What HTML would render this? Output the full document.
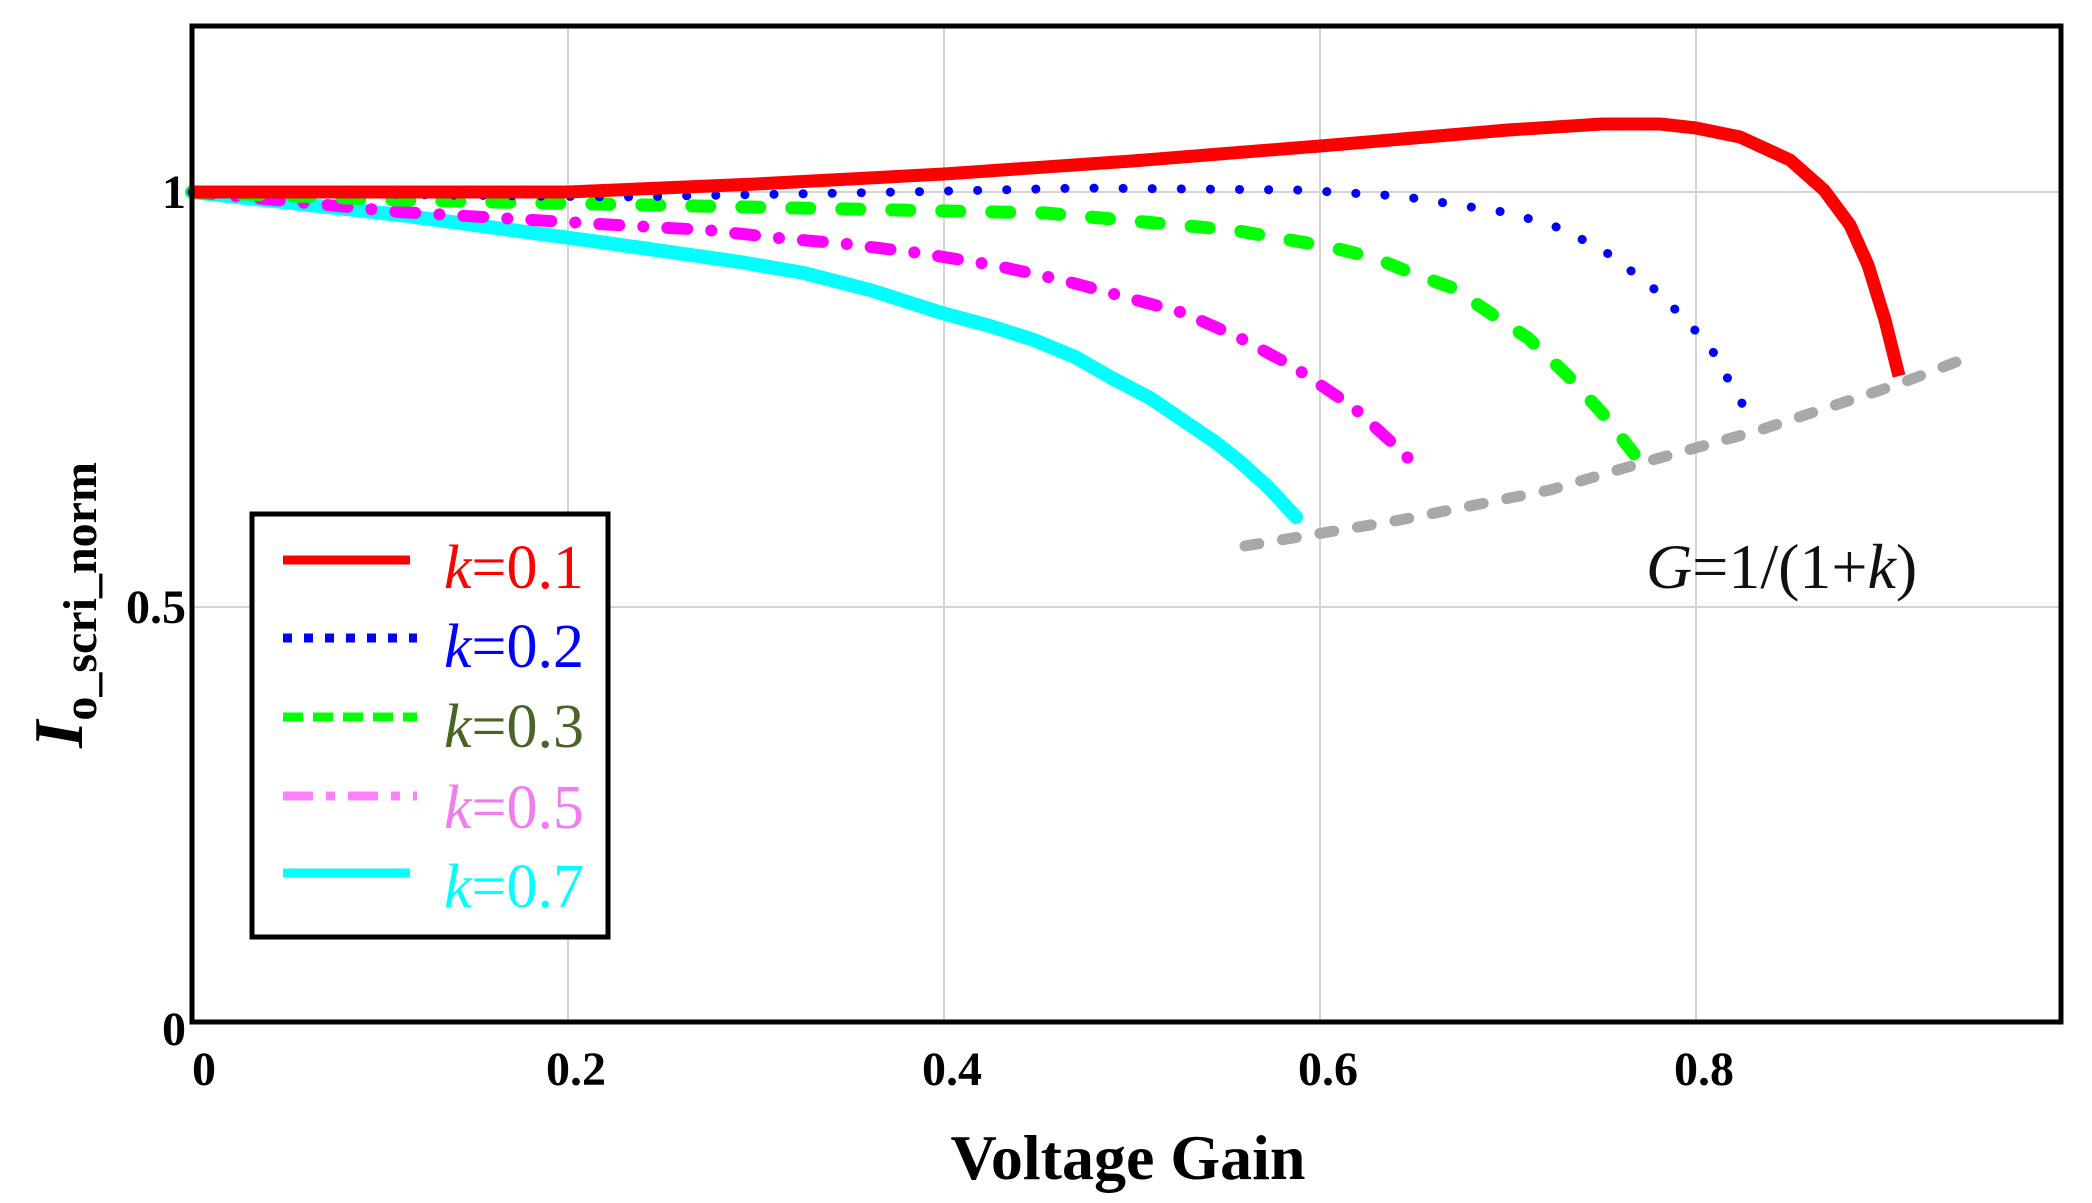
<!DOCTYPE html>
<html><head><meta charset="utf-8"><style>
html,body{margin:0;padding:0;background:#fff;}
svg{display:block;}
text{font-family:"Liberation Serif",serif;}
</style></head><body>
<svg width="2092" height="1203" viewBox="0 0 2092 1203" xmlns="http://www.w3.org/2000/svg">
<rect width="2092" height="1203" fill="#fff"/>
<g stroke="#d4d4d4" stroke-width="2">
<line x1="568" y1="26" x2="568" y2="1022"/>
<line x1="944" y1="26" x2="944" y2="1022"/>
<line x1="1320" y1="26" x2="1320" y2="1022"/>
<line x1="1696" y1="26" x2="1696" y2="1022"/>
<line x1="192" y1="607" x2="2061" y2="607"/>
<line x1="192" y1="192" x2="2061" y2="192"/>
</g>
<polyline fill="none" stroke="#a8a8a8" stroke-width="11" stroke-linecap="round" stroke-dasharray="14 24" points="1245,546 1400,520 1550,490 1638,464 1760,430 1899,384 1969,357"/>
<polyline fill="none" stroke="#00ffff" stroke-width="14" stroke-linejoin="round" stroke-linecap="round" points="192,192 400,215 600,242 677,253 740,262 804,273 870,290 942,313 990,326 1034,340 1075,357 1110,377 1150,398 1187,423 1215,442 1238,460 1268,487 1296,517"/>
<polyline fill="none" stroke="#ff00ff" stroke-width="12" stroke-linecap="round" stroke-dasharray="20 24 0.1 24" points="192,192 400,212 633,226 707,230 779,238 847,244 919,253 993,265 1062,280 1125,297 1184,313 1240,338 1294,367 1353,407 1400,450 1420,470"/>
<polyline fill="none" stroke="#00ff00" stroke-width="13" stroke-linecap="round" stroke-dasharray="18 32" points="192,192 400,200 646,205 1046,213 1233,230 1330,247 1375,258 1409,272 1453,288 1493,315 1528,338 1568,376 1603,414 1638,459"/>
<polyline fill="none" stroke="#0000ff" stroke-width="9" stroke-linecap="round" stroke-dasharray="0.1 29" points="192,192 620,197 900,192 1085,188 1300,190 1400,196 1510,213 1563,229 1607,253 1650,285 1687,321 1712,350 1733,388 1750,417"/>
<polyline fill="none" stroke="#ff0000" stroke-width="13" stroke-linejoin="round" points="192,192 380,192 568,192 756,184 944,174 1132,161 1320,146 1508,130 1602,124 1660,124 1696,128 1740,137 1790,160 1824,190 1850,225 1868,265 1885,320 1899,376"/>
<rect x="192" y="26" width="1869" height="996" fill="none" stroke="#000" stroke-width="5"/>
<g font-weight="bold" font-size="48" fill="#000">
<text x="186" y="208" text-anchor="end">1</text>
<text x="186" y="623" text-anchor="end">0.5</text>
<text x="186" y="1045" text-anchor="end">0</text>
<text x="204" y="1085" text-anchor="middle">0</text>
<text x="576" y="1085" text-anchor="middle">0.2</text>
<text x="952" y="1085" text-anchor="middle">0.4</text>
<text x="1328" y="1085" text-anchor="middle">0.6</text>
<text x="1704" y="1085" text-anchor="middle">0.8</text>
</g>
<text x="1128" y="1179" text-anchor="middle" font-weight="bold" font-size="64">Voltage Gain</text>
<text transform="translate(82,605) rotate(-90)" text-anchor="middle" font-weight="bold" font-size="70"><tspan font-style="italic">I</tspan><tspan font-size="48" dy="14">o_scri_norm</tspan></text>
<text x="1646" y="588" font-size="64" fill="#111"><tspan font-style="italic">G</tspan>=1/(1+<tspan font-style="italic">k</tspan>)</text>
<rect x="252" y="514" width="356" height="423" fill="#fff" stroke="#000" stroke-width="5"/>
<line x1="283" y1="560" x2="410" y2="560" stroke="#ff0000" stroke-width="9"/>
<line x1="283" y1="638" x2="417" y2="638" stroke="#0000ff" stroke-width="9" stroke-dasharray="9 12"/>
<line x1="283" y1="717" x2="417" y2="717" stroke="#00ff00" stroke-width="9" stroke-dasharray="20 10"/>
<line x1="283" y1="796" x2="417" y2="796" stroke="#ff80ff" stroke-width="9" stroke-dasharray="30 13 9 13"/>
<line x1="283" y1="873" x2="410" y2="873" stroke="#00ffff" stroke-width="9"/>
<g font-size="62">
<text x="444" y="588" fill="#ff0000"><tspan font-style="italic">k</tspan>=0.1</text>
<text x="444" y="667" fill="#0000ff"><tspan font-style="italic">k</tspan>=0.2</text>
<text x="444" y="747" fill="#4a6428"><tspan font-style="italic">k</tspan>=0.3</text>
<text x="444" y="828" fill="#f07cf0"><tspan font-style="italic">k</tspan>=0.5</text>
<text x="444" y="907" fill="#00ffff"><tspan font-style="italic">k</tspan>=0.7</text>
</g>
</svg>
</body></html>
